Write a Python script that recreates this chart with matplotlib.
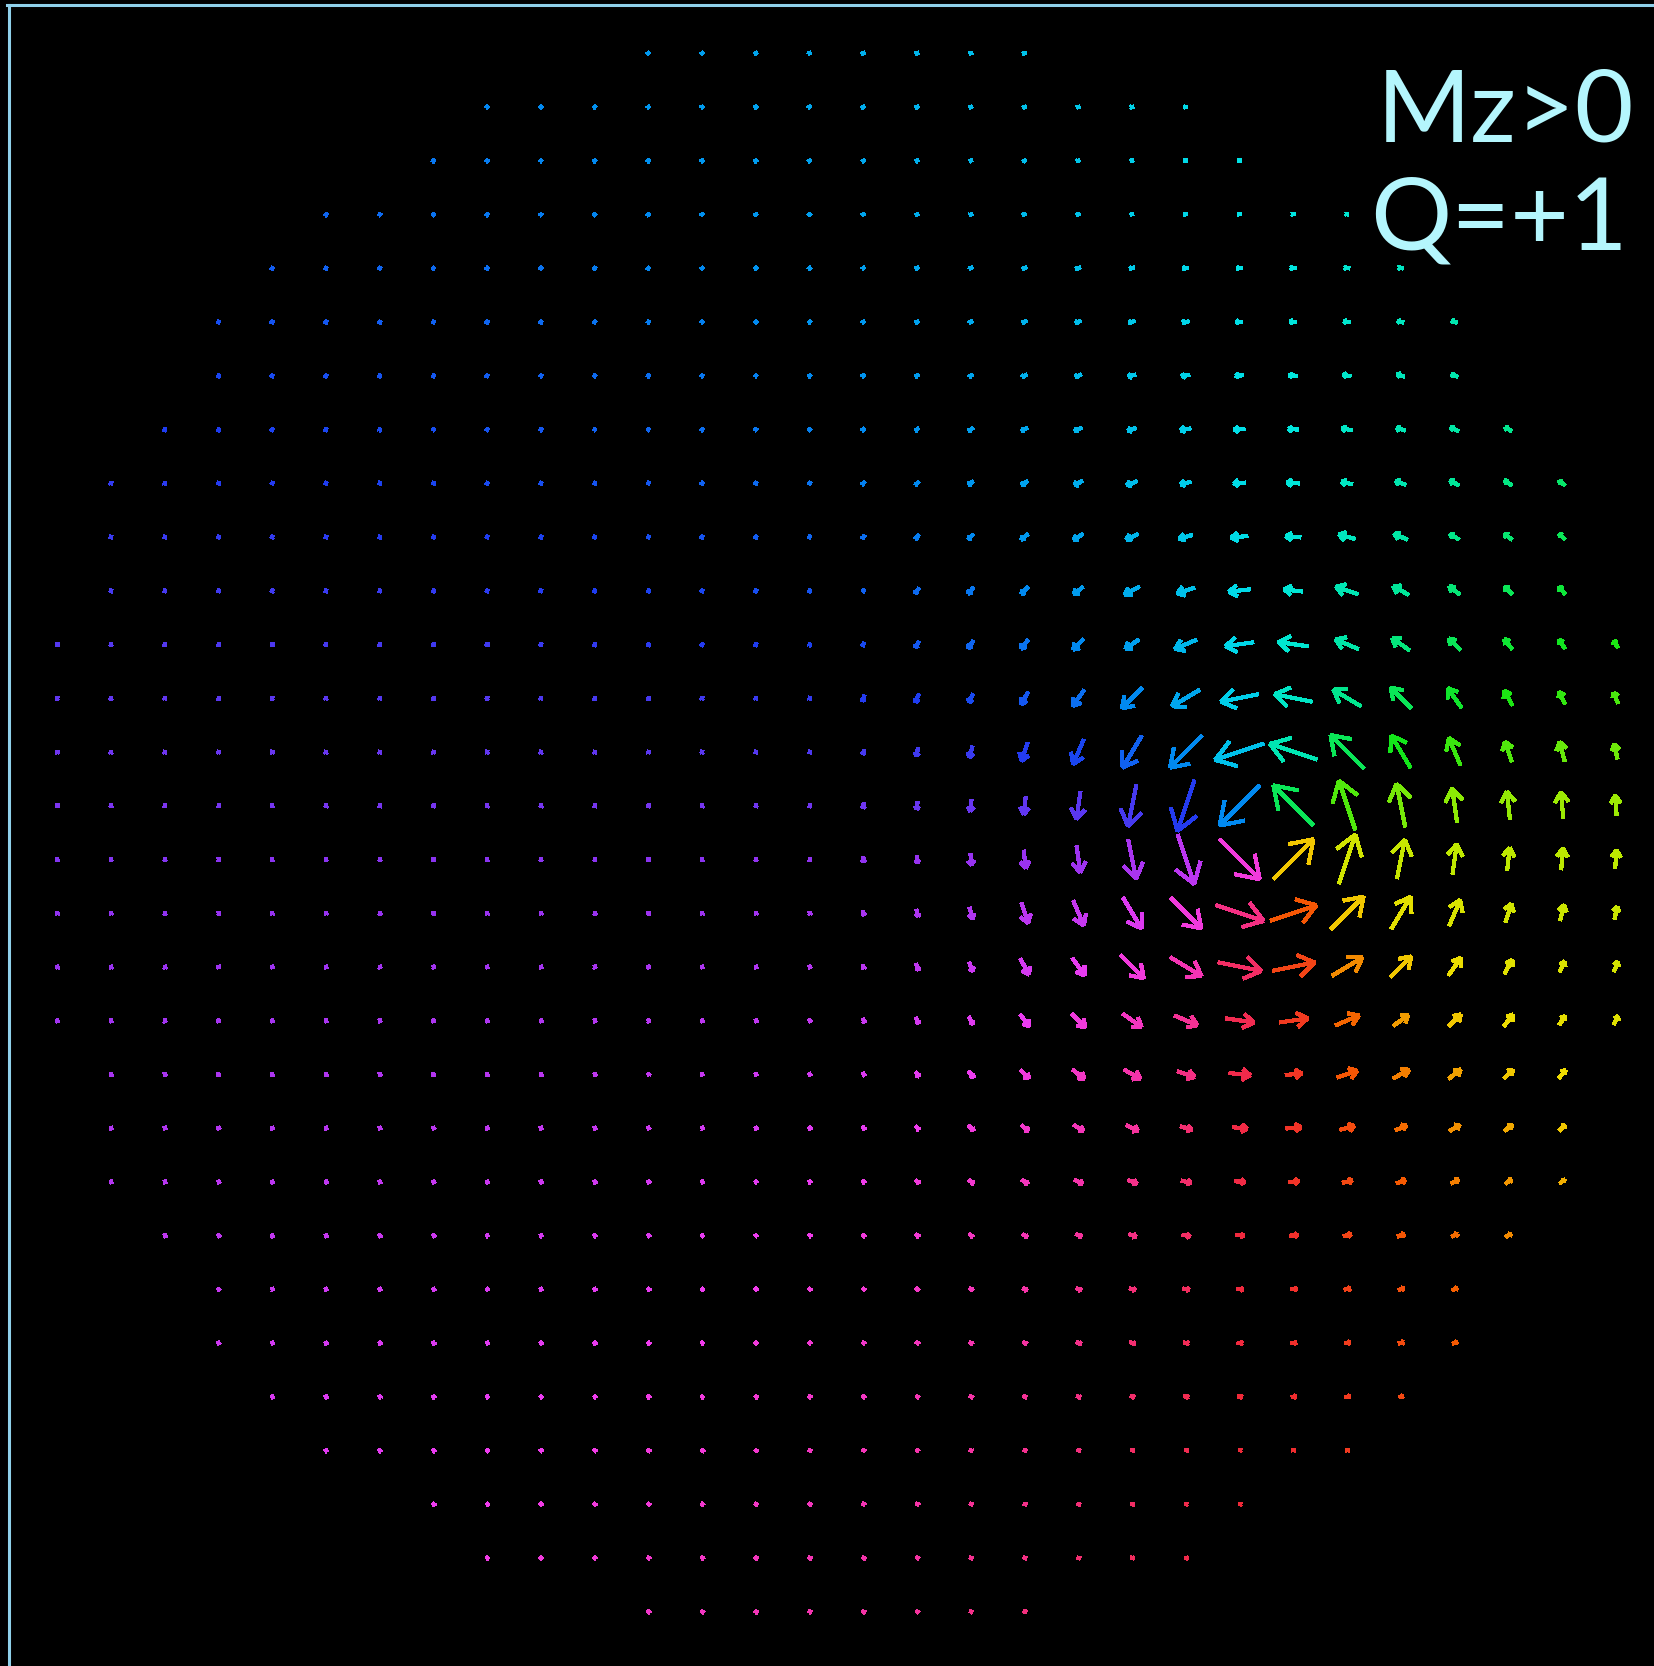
import numpy as np
import matplotlib
matplotlib.use("Agg")
import matplotlib.pyplot as plt
from matplotlib.collections import LineCollection
from matplotlib.colors import LinearSegmentedColormap
from matplotlib.lines import Line2D

# lattice: 30 x 30 sites, only sites inside the disk are drawn
n_sites = 30
disk_center = 14.5
disk_radius = 15.0
# vortex core position (column, row)
core_col, core_row = 22.5, 14.5

# in-plane arrow lengths (1/100 of a lattice spacing), rows 4..25, cols 15..29
tab_row0, tab_col0 = 4, 15
lengths = np.array([
    [6, 7, 7, 8, 9, 9, 10, 10, 10, 10, 9, 9, 8, 8, 7],
    [6, 7, 8, 9, 10, 11, 12, 12, 12, 12, 11, 11, 10, 9, 8],
    [7, 7, 8, 10, 12, 14, 15, 15, 15, 15, 14, 13, 12, 10, 9],
    [7, 8, 10, 12, 14, 16, 19, 20, 18, 19, 17, 16, 14, 12, 11],
    [8, 9, 11, 14, 17, 20, 20, 22, 24, 21, 20, 19, 16, 14, 12],
    [8, 10, 13, 16, 20, 24, 25, 31, 28, 31, 27, 20, 18, 15, 13],
    [6, 12, 16, 18, 22, 31, 34, 40, 34, 43, 33, 25, 20, 18, 15],
    [7, 13, 17, 22, 28, 31, 44, 53, 56, 46, 40, 30, 24, 20, 16],
    [12, 17, 18, 26, 37, 54, 60, 71, 71, 60, 54, 45, 32, 25, 22],
    [9, 15, 22, 36, 50, 69, 84, 96, 92, 88, 70, 55, 40, 38, 28],
    [10, 14, 22, 34, 52, 79, 100, 105, 105, 97, 82, 64, 52, 50, 37],
    [10, 14, 22, 34, 50, 74, 97, 105, 105, 97, 74, 56, 43, 40, 34],
    [9, 14, 22, 40, 50, 67, 81, 94, 90, 86, 70, 52, 36, 30, 24],
    [8, 13, 18, 34, 40, 61, 68, 82, 80, 66, 54, 40, 30, 22, 20],
    [8, 12, 16, 28, 36, 43, 46, 53, 53, 47, 34, 32, 28, 20, 18],
    [7, 11, 15, 22, 28, 35, 34, 40, 31, 40, 34, 28, 24, 20, 16],
    [7, 10, 13, 17, 21, 24, 22, 28, 28, 28, 22, 22, 19, 16, 13],
    [6, 9, 11, 13, 16, 18, 18, 19, 19, 19, 18, 16, 14, 12, 11],
    [6, 8, 9, 10, 12, 14, 15, 15, 15, 15, 14, 13, 12, 10, 9],
    [6, 7, 8, 9, 10, 11, 12, 12, 12, 12, 11, 11, 10, 9, 8],
    [6, 7, 7, 8, 9, 10, 10, 10, 10, 10, 10, 9, 9, 8, 7],
    [6, 6, 7, 7, 8, 8, 9, 9, 9, 9, 8, 8, 8, 7, 7],
]) / 100.0
dot_len = 0.06

# colour wheel for the in-plane angle (degrees, counter-clockwise from +x)
wheel_deg = [0, 20, 50, 90, 120, 150, 180, 225, 250, 275, 310, 335, 360]
wheel_rgb = ["#f02832", "#f55a00", "#f0dc00", "#b4eb00", "#14e614", "#00e696",
             "#00e6e6", "#008cf0", "#1e3cf0", "#9632f0", "#f03cf0", "#f532a0",
             "#f02832"]
wheel = LinearSegmentedColormap.from_list(
    "wheel", list(zip(np.array(wheel_deg) / 360.0, wheel_rgb)))

head_frac = 0.45
head_ang = np.radians(34)

segs = []
seg_colors = []
for i in range(n_sites):
    for j in range(n_sites):
        if (i - disk_center) ** 2 + (j - disk_center) ** 2 > disk_radius ** 2:
            continue
        dx, dy = j - core_col, i - core_row
        r = np.hypot(dx, dy)
        u = np.array([dy, -dx]) / r
        ti, tj = i - tab_row0, j - tab_col0
        if 0 <= ti < lengths.shape[0] and 0 <= tj < lengths.shape[1]:
            L = lengths[ti, tj]
        else:
            L = dot_len
        p = np.array([j, i], dtype=float)
        tail, tip = p - u * L / 2, p + u * L / 2
        segs.append([tail, tip])
        for s in (1, -1):
            c, sn = np.cos(s * head_ang), np.sin(s * head_ang)
            b = np.array([-u[0] * c + u[1] * sn, -u[0] * sn - u[1] * c])
            segs.append([tip, tip + b * head_frac * L])
        ang = np.degrees(np.arctan2(-u[1], u[0])) % 360
        seg_colors += [wheel(ang / 360.0)] * 3

W, H = 1654, 1666
fig = plt.figure(figsize=(W / 100, H / 100), dpi=100, facecolor="black")
ax = fig.add_axes([0, 0, 1, 1], facecolor="black")
step = 53.74
x0 = -57.4 / step
y0 = -53.1 / step
ax.set_xlim(x0, x0 + W / step)
ax.set_ylim(y0 + H / step, y0)
ax.axis("off")

lc = LineCollection(segs, colors=seg_colors, linewidths=2.3,
                    antialiaseds=False, capstyle="butt")
ax.add_collection(lc)

# frame lines on the left and top
edge = "#8fd0ea"
fig.add_artist(Line2D([8.5 / W, 8.5 / W], [0, 1 - 4.5 / H], color=edge, lw=2.2,
                      transform=fig.transFigure))
fig.add_artist(Line2D([7 / W, 1], [1 - 4.5 / H, 1 - 4.5 / H], color=edge, lw=2.2,
                      transform=fig.transFigure))

txt = "#b4f6fd"
fig.text(1634 / W, 1 - 142 / H, "Mz>0", ha="right", va="baseline",
         fontsize=73, family="Lato", color=txt)
fig.text(1628 / W, 1 - 250 / H, "Q=+1", ha="right", va="baseline",
         fontsize=73, family="Lato", color=txt)

fig.savefig("out.png", dpi=100, facecolor="black")
